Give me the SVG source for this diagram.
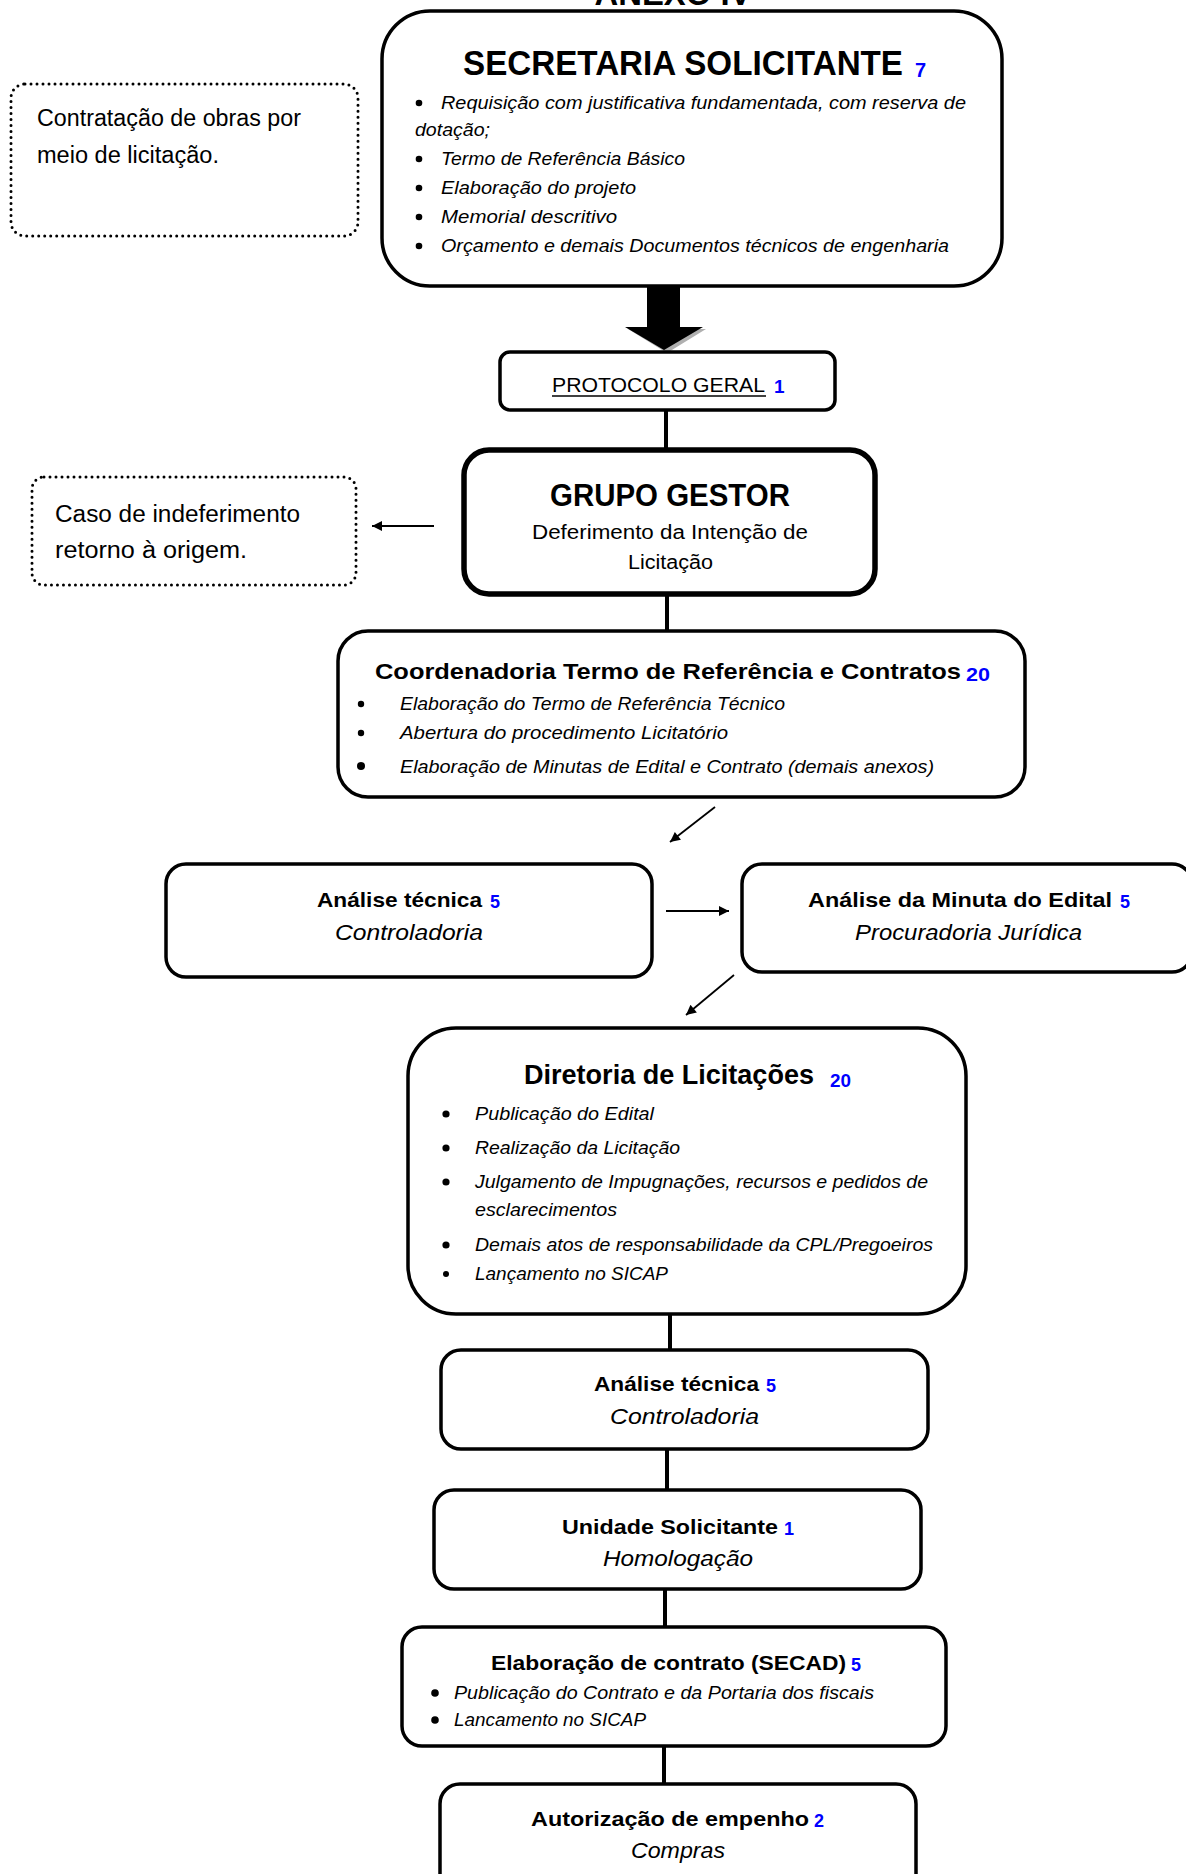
<svg xmlns="http://www.w3.org/2000/svg" width="1186" height="1874" viewBox="0 0 1186 1874">
<style>
.bg{fill:#fff}
.box{fill:#fff;stroke:#000;stroke-width:3.5}
.thick{stroke-width:5.5}
.dot{fill:#fff;stroke:#000;stroke-width:3;stroke-dasharray:0 6;stroke-linecap:round}
text{font-family:"Liberation Sans",Arial,sans-serif;fill:#000}
.b{font-weight:bold}
.i{font-style:italic}
.n{font-weight:bold;fill:#0000ff}
.con{stroke:#000;stroke-width:4;fill:none}
.arr{stroke:#000;stroke-width:1.8;fill:none;marker-end:url(#ah)}
.bul{fill:#000}
</style>
<defs>
<marker id="ah" viewBox="0 0 10 10" refX="10" refY="5" markerWidth="14" markerHeight="10" markerUnits="userSpaceOnUse" orient="auto">
<path d="M0,0 L10,5 L0,10 z" fill="#000"/>
</marker>
</defs>
<rect class="bg" x="0" y="0" width="1186" height="1874"/>

<g id="title">
<text class="b" x="673" y="5" font-size="34" text-anchor="middle" textLength="157" lengthAdjust="spacingAndGlyphs">ANEXO IV</text>
</g>

<g id="connectors">
<line class="con" x1="666" y1="410" x2="666" y2="450"/>
<line class="con" x1="667" y1="594" x2="667" y2="631"/>
<line class="con" x1="670" y1="1314" x2="670" y2="1350"/>
<line class="con" x1="667" y1="1449" x2="667" y2="1490"/>
<line class="con" x1="665" y1="1589" x2="665" y2="1627"/>
<line class="con" x1="664" y1="1746" x2="664" y2="1784"/>
<line class="arr" x1="434" y1="526" x2="372" y2="526"/>
<line class="arr" x1="715" y1="807" x2="670" y2="842"/>
<line class="arr" x1="666" y1="911" x2="729" y2="911"/>
<line class="arr" x1="734" y1="975" x2="686" y2="1015"/>
</g>

<g id="note-obras">
<rect class="dot" x="11" y="84" width="347" height="152" rx="14"/>
<text x="37" y="126" font-size="23" textLength="264" lengthAdjust="spacingAndGlyphs">Contratação de obras por</text>
<text x="37" y="163" font-size="23" textLength="182" lengthAdjust="spacingAndGlyphs">meio de licitação.</text>
</g>

<g id="secretaria">
<rect class="box" x="382" y="11" width="620" height="275" rx="48"/>
<text class="b" x="463" y="75" font-size="35" textLength="440" lengthAdjust="spacingAndGlyphs">SECRETARIA SOLICITANTE</text>
<text class="n" x="915" y="77" font-size="20">7</text>
<g font-size="17.5">
<circle class="bul" cx="419" cy="103" r="3.3"/>
<text class="i" x="441" y="109" textLength="525" lengthAdjust="spacingAndGlyphs">Requisição com justificativa fundamentada, com reserva de</text>
<text class="i" x="415" y="136" textLength="75" lengthAdjust="spacingAndGlyphs">dotação;</text>
<circle class="bul" cx="419" cy="159" r="3.3"/>
<text class="i" x="441" y="165" textLength="244" lengthAdjust="spacingAndGlyphs">Termo de Referência Básico</text>
<circle class="bul" cx="419" cy="188" r="3.3"/>
<text class="i" x="441" y="194" textLength="195" lengthAdjust="spacingAndGlyphs">Elaboração do projeto</text>
<circle class="bul" cx="419" cy="217" r="3.3"/>
<text class="i" x="441" y="223" textLength="176" lengthAdjust="spacingAndGlyphs">Memorial descritivo</text>
<circle class="bul" cx="419" cy="246" r="3.3"/>
<text class="i" x="441" y="252" textLength="508" lengthAdjust="spacingAndGlyphs">Orçamento e demais Documentos técnicos de engenharia</text>
</g>
</g>

<g id="big-arrow">
<polygon points="628,329 706,329 667,353" fill="#b0b0b0"/>
<polygon points="647,286 680,286 680,327 703,327 664,350 625,327 647,327" fill="#000"/>
</g>

<g id="protocolo">
<rect class="box" x="500" y="352" width="335" height="58" rx="10"/>
<text x="552" y="392" font-size="21" textLength="213" lengthAdjust="spacingAndGlyphs">PROTOCOLO GERAL</text>
<line x1="552" y1="396" x2="766" y2="396" stroke="#000" stroke-width="1.5"/>
<text class="n" x="774" y="393" font-size="19">1</text>
</g>

<g id="grupo-gestor">
<rect class="box thick" x="464" y="450" width="411" height="144" rx="25"/>
<text class="b" x="550" y="506" font-size="32" textLength="240" lengthAdjust="spacingAndGlyphs">GRUPO GESTOR</text>
<text x="532" y="539" font-size="19.5" textLength="276" lengthAdjust="spacingAndGlyphs">Deferimento da Intenção de</text>
<text x="628" y="569" font-size="19.5" textLength="85" lengthAdjust="spacingAndGlyphs">Licitação</text>
</g>

<g id="note-indeferimento">
<rect class="dot" x="32" y="477" width="324" height="108" rx="12"/>
<text x="55" y="522" font-size="23" textLength="245" lengthAdjust="spacingAndGlyphs">Caso de indeferimento</text>
<text x="55" y="558" font-size="23" textLength="192" lengthAdjust="spacingAndGlyphs">retorno à origem.</text>
</g>

<g id="coordenadoria">
<rect class="box" x="338" y="631" width="687" height="166" rx="30"/>
<text class="b" x="375" y="679" font-size="22" textLength="586" lengthAdjust="spacingAndGlyphs">Coordenadoria Termo de Referência e Contratos</text>
<text class="n" x="966" y="681" font-size="18" textLength="24" lengthAdjust="spacingAndGlyphs">20</text>
<g font-size="17.5">
<circle class="bul" cx="361" cy="704" r="3.2"/>
<text class="i" x="400" y="710" textLength="385" lengthAdjust="spacingAndGlyphs">Elaboração do Termo de Referência Técnico</text>
<circle class="bul" cx="361" cy="733" r="3.2"/>
<text class="i" x="400" y="739" textLength="328" lengthAdjust="spacingAndGlyphs">Abertura do procedimento Licitatório</text>
<circle class="bul" cx="361" cy="766" r="4"/>
<text class="i" x="400" y="773" textLength="534" lengthAdjust="spacingAndGlyphs">Elaboração de Minutas de Edital e Contrato (demais anexos)</text>
</g>
</g>

<g id="analise-tecnica-1">
<rect class="box" x="166" y="864" width="486" height="113" rx="20"/>
<text class="b" x="317" y="907" font-size="21" textLength="165" lengthAdjust="spacingAndGlyphs">Análise técnica</text>
<text class="n" x="490" y="908" font-size="18">5</text>
<text class="i" x="335" y="940" font-size="21.5" textLength="148" lengthAdjust="spacingAndGlyphs">Controladoria</text>
</g>

<g id="analise-minuta">
<rect class="box" x="742" y="864" width="450" height="108" rx="20"/>
<text class="b" x="808" y="907" font-size="21" textLength="304" lengthAdjust="spacingAndGlyphs">Análise da Minuta do Edital</text>
<text class="n" x="1120" y="908" font-size="18">5</text>
<text class="i" x="855" y="940" font-size="21.5" textLength="227" lengthAdjust="spacingAndGlyphs">Procuradoria Jurídica</text>
</g>

<g id="diretoria">
<rect class="box" x="408" y="1028" width="558" height="286" rx="48"/>
<text class="b" x="524" y="1084" font-size="27" textLength="290" lengthAdjust="spacingAndGlyphs">Diretoria de Licitações</text>
<text class="n" x="830" y="1087" font-size="18" textLength="21" lengthAdjust="spacingAndGlyphs">20</text>
<g font-size="18.5">
<circle class="bul" cx="446" cy="1114" r="3.6"/>
<text class="i" x="475" y="1120" textLength="179" lengthAdjust="spacingAndGlyphs">Publicação do Edital</text>
<circle class="bul" cx="446" cy="1148" r="3.6"/>
<text class="i" x="475" y="1154" textLength="205" lengthAdjust="spacingAndGlyphs">Realização da Licitação</text>
<circle class="bul" cx="446" cy="1182" r="3.6"/>
<text class="i" x="475" y="1188" textLength="453" lengthAdjust="spacingAndGlyphs">Julgamento de Impugnações, recursos e pedidos de</text>
<text class="i" x="475" y="1216" textLength="142" lengthAdjust="spacingAndGlyphs">esclarecimentos</text>
<circle class="bul" cx="446" cy="1245" r="3.6"/>
<text class="i" x="475" y="1251" textLength="458" lengthAdjust="spacingAndGlyphs">Demais atos de responsabilidade da CPL/Pregoeiros</text>
<circle class="bul" cx="446" cy="1274" r="3"/>
<text class="i" x="475" y="1280" textLength="193" lengthAdjust="spacingAndGlyphs">Lançamento no SICAP</text>
</g>
</g>

<g id="analise-tecnica-2">
<rect class="box" x="441" y="1350" width="487" height="99" rx="20"/>
<text class="b" x="594" y="1391" font-size="21" textLength="165" lengthAdjust="spacingAndGlyphs">Análise técnica</text>
<text class="n" x="766" y="1392" font-size="18">5</text>
<text class="i" x="610" y="1424" font-size="21.5" textLength="149" lengthAdjust="spacingAndGlyphs">Controladoria</text>
</g>

<g id="unidade-solicitante">
<rect class="box" x="434" y="1490" width="487" height="99" rx="20"/>
<text class="b" x="562" y="1534" font-size="21" textLength="216" lengthAdjust="spacingAndGlyphs">Unidade Solicitante</text>
<text class="n" x="784" y="1535" font-size="18">1</text>
<text class="i" x="603" y="1566" font-size="21.5" textLength="150" lengthAdjust="spacingAndGlyphs">Homologação</text>
</g>

<g id="elaboracao-contrato">
<rect class="box" x="402" y="1627" width="544" height="119" rx="20"/>
<text class="b" x="491" y="1670" font-size="21" textLength="355" lengthAdjust="spacingAndGlyphs">Elaboração de contrato (SECAD)</text>
<text class="n" x="851" y="1671" font-size="18">5</text>
<g font-size="17.5">
<circle class="bul" cx="435" cy="1693" r="3.8"/>
<text class="i" x="454" y="1699" textLength="420" lengthAdjust="spacingAndGlyphs">Publicação do Contrato e da Portaria dos fiscais</text>
<circle class="bul" cx="435" cy="1720" r="3.8"/>
<text class="i" x="454" y="1726" textLength="192" lengthAdjust="spacingAndGlyphs">Lancamento no SICAP</text>
</g>
</g>

<g id="autorizacao-empenho">
<rect class="box" x="440" y="1784" width="476" height="120" rx="20"/>
<text class="b" x="531" y="1826" font-size="21" textLength="278" lengthAdjust="spacingAndGlyphs">Autorização de empenho</text>
<text class="n" x="814" y="1827" font-size="18">2</text>
<text class="i" x="631" y="1858" font-size="21.5" textLength="94" lengthAdjust="spacingAndGlyphs">Compras</text>
</g>
</svg>
